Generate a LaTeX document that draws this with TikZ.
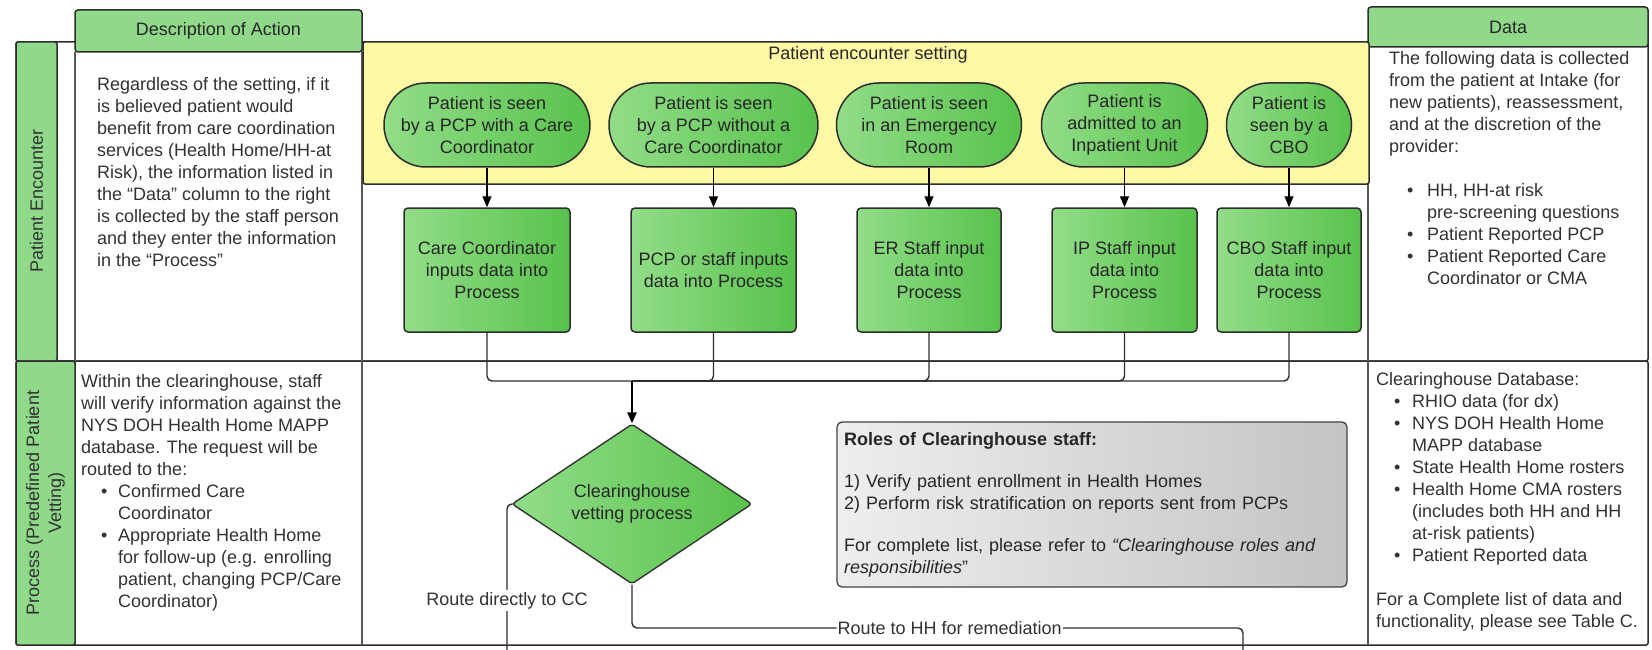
\documentclass[tikz,border=0pt]{standalone}
\usepackage{fontspec}
\setmainfont{Liberation Sans}
\usetikzlibrary{arrows.meta,shapes.geometric}

\definecolor{laneGreen}{RGB}{144,217,138}
\definecolor{nodeLight}{RGB}{146,221,136}
\definecolor{nodeDark}{RGB}{88,194,76}
\definecolor{settingYellow}{RGB}{255,249,166}
\definecolor{roleLight}{RGB}{238,238,238}
\definecolor{roleDark}{RGB}{196,196,196}
\definecolor{edgeGray}{RGB}{45,45,45}
\definecolor{textGray}{RGB}{50,50,50}

\newcommand{\bul}[2]{\makebox[#2][l]{\hspace*{#1}\textbullet}}
\newcommand{\ind}[1]{\hspace*{#1}}

\begin{document}
\begin{tikzpicture}[x=1pt,y=-1pt,>={Triangle[length=11pt,width=9pt]},
        every node/.style={font=\fontsize{18}{22}\selectfont,text=textGray},
        laneBox/.style={draw=edgeGray,fill=white,line width=1.5pt,rounded corners=2pt},
        laneStrip/.style={draw=edgeGray,fill=laneGreen,line width=1.5pt,rounded corners=2pt},
        colLine/.style={draw=edgeGray!80,line width=1.2pt},
        colHead/.style={draw=edgeGray,fill=laneGreen,line width=1.5pt,rounded corners=3pt,inner sep=0pt,text=black!85},
        settingBox/.style={draw=edgeGray,fill=settingYellow,line width=1.5pt,rounded corners=2pt},
        eventNode/.style={draw=edgeGray,line width=1.5pt,rounded corners=42pt,left color=nodeLight,right color=nodeDark,
            minimum height=84pt,align=center,inner sep=0pt,text=black!85},
        stepBox/.style={draw=edgeGray,line width=1.5pt,rounded corners=4pt,left color=nodeLight,right color=nodeDark,
            minimum height=124pt,align=center,inner sep=0pt,text=black!85},
        vetNode/.style={diamond,draw=edgeGray,line width=1.3pt,rounded corners=3pt,left color=nodeLight,right color=nodeDark,
            aspect=1.5,minimum width=240pt,minimum height=160pt,inner sep=0pt,align=center,text=black!85},
        roleBox/.style={draw=edgeGray!90,line width=1.3pt,rounded corners=5pt,left color=roleLight,right color=roleDark,
            inner sep=0pt,align=left,text=black!85},
        textBlock/.style={anchor=west,align=left,inner sep=0pt},
        flowLine/.style={draw=edgeGray,line width=1.4pt,rounded corners=5pt},
        mainArrow/.style={->,draw=black,line width=2.6pt}]
    \useasboundingbox (0,0) rectangle (1652,650);
    % swimlanes
    \draw[laneBox] (16,42) rectangle (1648,361);
    \draw[laneBox] (16,361) rectangle (1648,645);
    \draw[colLine] (75,52) -- (75,645);
    \draw[colLine] (362,52) -- (362,645);
    \draw[colLine] (1368,47) -- (1368,645);
    \draw[laneStrip] (16,42) rectangle (57,361);
    \draw[laneStrip] (16,361) rectangle (75,645);
    \node[rotate=90] (encLabel) at (36.5,201) {Patient Encounter};
    \node[rotate=90,align=center] (procLabel) at (45.5,503) {Process (Predefined Patient\\Vetting)};
    \node[colHead,minimum width=287pt,minimum height=42pt] (descHead) at (218.5,31) {Description of Action};
    \node[colHead,minimum width=280pt,minimum height=40pt] (dataHead) at (1508,27) {Data};
    % encounter setting
    \draw[settingBox] (363,42) rectangle (1369,184);
    \node[text=black!85] (settingTitle) at (868,55) {Patient encounter setting};
    \node[eventNode,minimum width=206pt] (pcpCC) at (487,125) {Patient is seen\\by a PCP with a Care\\Coordinator};
    \node[eventNode,minimum width=209pt] (pcpNoCC) at (713.5,125) {Patient is seen\\by a PCP without a\\Care Coordinator};
    \node[eventNode,minimum width=185pt] (erSeen) at (929,125) {Patient is seen\\in an Emergency\\Room};
    \node[eventNode,minimum width=166pt] (ipSeen) at (1124.5,125) {Patient is\\admitted to an\\Inpatient Unit};
    \node[eventNode,minimum width=125pt] (cboSeen) at (1289,125) {Patient is\\seen by a\\CBO};
    \node[stepBox,minimum width=166pt] (ccInput) at (487,270) {Care Coordinator\\inputs data into\\Process};
    \node[stepBox,minimum width=165pt] (pcpInput) at (713.5,270) {PCP or staff inputs\\data into Process};
    \node[stepBox,minimum width=144pt] (erInput) at (929,270) {ER Staff input\\data into\\Process};
    \node[stepBox,minimum width=145pt] (ipInput) at (1124.5,270) {IP Staff input\\data into\\Process};
    \node[stepBox,minimum width=144pt] (cboInput) at (1289,270) {CBO Staff input\\data into\\Process};
    \draw[->,draw=black,line width=1.4pt] (pcpCC) -- (ccInput);
    \draw[->,draw=black,line width=1.4pt] (pcpNoCC) -- (pcpInput);
    \draw[->,draw=black,line width=1.4pt] (erSeen) -- (erInput);
    \draw[->,draw=black,line width=1.4pt] (ipSeen) -- (ipInput);
    \draw[->,draw=black,line width=1.4pt] (cboSeen) -- (cboInput);
    % vetting
    \coordinate (merge) at (632,381);
    \node[vetNode] (vet) at (632,504) {Clearinghouse\\vetting process};
    \draw[flowLine] (ccInput) |- (merge);
    \draw[flowLine] (pcpInput) |- (merge);
    \draw[flowLine] (erInput) |- (merge);
    \draw[flowLine] (ipInput) |- (merge);
    \draw[flowLine] (cboInput) |- (merge);
    \draw[mainArrow] (merge) -- (vet);
    \coordinate (ccEnd) at (507,650);
    \coordinate (hhTurn) at (1243,628);
    \coordinate (hhEnd) at (1243,650);
    \draw[flowLine] (vet.west) -| node[pos=0.83,fill=white,inner sep=2pt] (ccLabel) {Route directly to CC} (ccEnd);
    \draw[flowLine] (vet.south) |- node[pos=0.76,fill=white,inner sep=1pt] (hhLabel) {Route to HH for remediation} (hhTurn) -- (hhEnd);
    \node[roleBox,minimum width=510pt,minimum height=165pt,text width=496pt] (roles) at (1092,504.5)
        {\textbf{Roles of Clearinghouse staff:}\\[20pt]1) Verify patient enrollment in Health Homes\\2) Perform risk stratification on reports sent from PCPs\\[20pt]For complete list, please refer to \textit{``Clearinghouse roles and}\\\textit{responsibilities}''};
    % column texts
    \node[textBlock] (descEnc) at (97,172) {Regardless of the setting, if it\\is believed patient would\\benefit from care coordination\\services (Health Home/HH-at\\Risk), the information listed in\\the ``Data'' column to the right\\is collected by the staff person\\and they enter the information\\in the ``Process''};
    \node[textBlock] (dataEnc) at (1389,168.5) {The following data is collected\\from the patient at Intake (for\\new patients), reassessment,\\and at the discretion of the\\provider:\\[22pt]\bul{18pt}{38pt}HH, HH-at risk\\\ind{38pt}pre-screening questions\\\bul{18pt}{38pt}Patient Reported PCP\\\bul{18pt}{38pt}Patient Reported Care\\\ind{38pt}Coordinator or CMA};
    \node[textBlock] (descProc) at (81,492.5) {Within the clearinghouse, staff\\will verify information against the\\NYS DOH Health Home MAPP\\database. The request will be\\routed to the:\\\bul{20pt}{37pt}Confirmed Care\\\ind{37pt}Coordinator\\\bul{20pt}{37pt}Appropriate Health Home\\\ind{37pt}for follow-up (e.g. enrolling\\\ind{37pt}patient, changing PCP/Care\\\ind{37pt}Coordinator)};
    \node[textBlock] (dataProc) at (1376,501.5) {Clearinghouse Database:\\\bul{18pt}{36pt}RHIO data (for dx)\\\bul{18pt}{36pt}NYS DOH Health Home\\\ind{36pt}MAPP database\\\bul{18pt}{36pt}State Health Home rosters\\\bul{18pt}{36pt}Health Home CMA rosters\\\ind{36pt}(includes both HH and HH\\\ind{36pt}at-risk patients)\\\bul{18pt}{36pt}Patient Reported data\\[22pt]For a Complete list of data and\\functionality, please see Table C.};
\end{tikzpicture}
\end{document}
